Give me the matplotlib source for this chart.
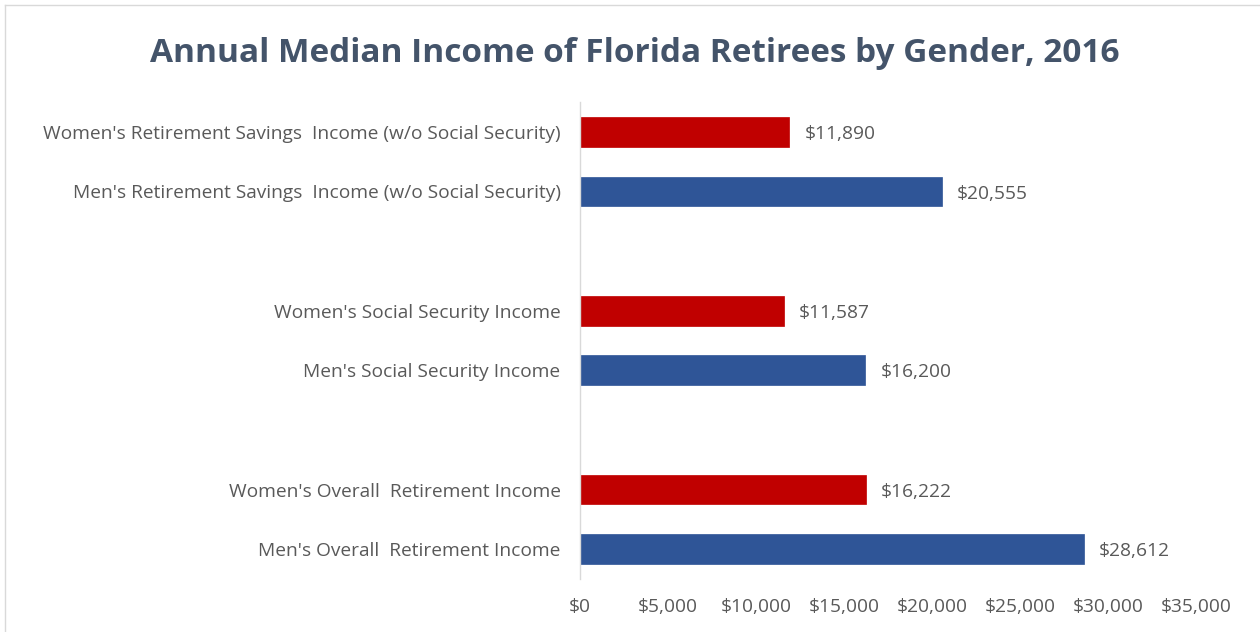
import matplotlib
matplotlib.use("Agg")
import matplotlib.pyplot as plt
from matplotlib.lines import Line2D

plt.rcParams['font.family'] = ['Open Sans', 'DejaVu Sans']

title = "Annual Median Income of Florida Retirees by Gender, 2016"
groups = [
    ("Women's Retirement Savings  Income (w/o Social Security)", "Men's Retirement Savings  Income (w/o Social Security)"),
    ("Women's Social Security Income", "Men's Social Security Income"),
    ("Women's Overall  Retirement Income", "Men's Overall  Retirement Income"),
]
women_values = [11890, 11587, 16222]
men_values = [20555, 16200, 28612]
xticks = [0, 5000, 10000, 15000, 20000, 25000, 30000, 35000]

RED = "#C00000"
BLUE = "#2F5597"
TEXT = "#595959"

W, H = 1260, 632
fig = plt.figure(figsize=(W / 100, H / 100), dpi=100)
ax = fig.add_axes([580 / W, 1 - 579 / H, (1196 - 580) / W, (579 - 102) / H])

positions, labels, values, colors = [], [], [], []
pos = 0
for gi, (wl, ml) in enumerate(groups):
    positions += [pos, pos + 1]
    labels += [wl, ml]
    values += [women_values[gi], men_values[gi]]
    colors += [RED, BLUE]
    pos += 3

FS = 13.8
ax.barh(positions, values, height=0.5, color=colors, edgecolor=colors, linewidth=0.5)
for p, v in zip(positions, values):
    ax.annotate(f"${v:,}", xy=(v, p), xytext=(11, -1.5), textcoords="offset points",
                va="center", ha="left", fontsize=FS, color=TEXT)

ax.set_ylim(7.5, -0.5)
ax.set_xlim(0, 35000)
ax.set_yticks(positions)
ax.set_yticklabels(labels, fontsize=FS, color=TEXT)
ax.set_xticks(xticks)
ax.set_xticklabels([f"${t:,}" for t in xticks], fontsize=FS, color=TEXT)
ax.tick_params(axis='both', length=0)
ax.tick_params(axis='y', pad=14)
ax.tick_params(axis='x', pad=14)
for s in ['top', 'right', 'bottom']:
    ax.spines[s].set_visible(False)
ax.spines['left'].set_color('#D9D9D9')
ax.spines['left'].set_linewidth(1.0)

fig.text(635 / W, 1 - 53 / H, title, ha='center', va='center', fontsize=24,
         fontweight='bold', color='#44546A')

# outer chart frame
fig.add_artist(Line2D([5 / W, 5 / W], [0, 1 - 5 / H], color='#D9D9D9', lw=1.0, transform=fig.transFigure))
fig.add_artist(Line2D([5 / W, 1], [1 - 5 / H, 1 - 5 / H], color='#D9D9D9', lw=1.0, transform=fig.transFigure))

fig.savefig("out.png", dpi=100, facecolor='white')
